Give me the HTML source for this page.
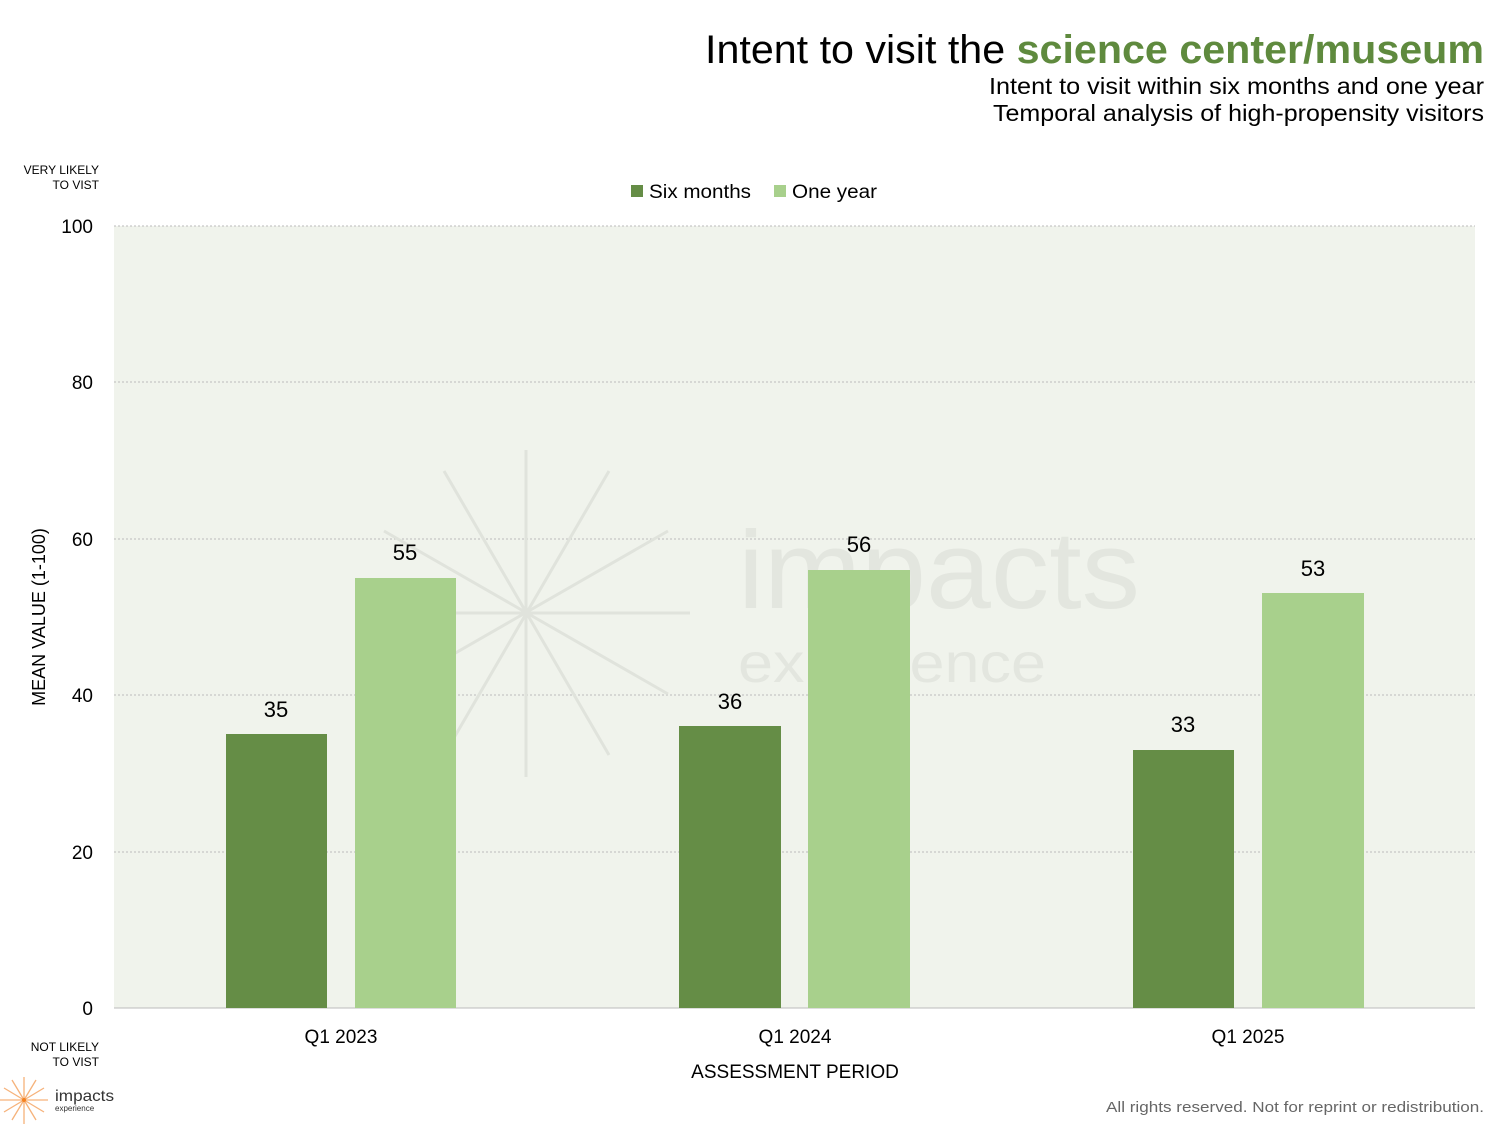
<!DOCTYPE html>
<html><head><meta charset="utf-8"><style>
body{margin:0;width:1500px;height:1125px;background:#fff;font-family:"Liberation Sans",sans-serif;overflow:hidden}
</style></head><body>
<svg width="1500" height="1125" xmlns="http://www.w3.org/2000/svg" font-family="Liberation Sans, sans-serif">
<text x="705" y="63" font-size="40" fill="#000" textLength="779" lengthAdjust="spacingAndGlyphs">Intent to visit the <tspan fill="#5f8a3e" font-weight="bold">science center/museum</tspan></text>
<text x="989" y="94" font-size="23" fill="#000" textLength="495" lengthAdjust="spacingAndGlyphs">Intent to visit within six months and one year</text>
<text x="993" y="121" font-size="23" fill="#000" textLength="491" lengthAdjust="spacingAndGlyphs">Temporal analysis of high-propensity visitors</text>
<text x="99" y="174" text-anchor="end" font-size="12">VERY LIKELY</text>
<text x="99" y="189" text-anchor="end" font-size="12">TO VIST</text>
<text x="99" y="1051" text-anchor="end" font-size="12">NOT LIKELY</text>
<text x="99" y="1066" text-anchor="end" font-size="12">TO VIST</text>
<rect x="631" y="185" width="12" height="12" fill="#658d46"/>
<text x="649" y="198" font-size="19" textLength="102" lengthAdjust="spacingAndGlyphs">Six months</text>
<rect x="774" y="185" width="12" height="12" fill="#a8d08c"/>
<text x="792" y="198" font-size="19" textLength="85" lengthAdjust="spacingAndGlyphs">One year</text>
<rect x="114" y="226" width="1361" height="782" fill="#f0f3ec"/>
<g stroke="#bbb" stroke-dasharray="2,2" stroke-width="1">
<line x1="114" x2="1475" y1="226" y2="226"/><line x1="114" x2="1475" y1="382" y2="382"/>
<line x1="114" x2="1475" y1="539" y2="539"/><line x1="114" x2="1475" y1="695" y2="695"/>
<line x1="114" x2="1475" y1="852" y2="852"/></g>
<g stroke="#e0e3dc" stroke-width="3">
<line x1="526" y1="450" x2="526" y2="777"/><line x1="360" y1="613" x2="690" y2="613"/>
<line x1="444" y1="471" x2="609" y2="755"/><line x1="609" y1="471" x2="444" y2="755"/>
<line x1="384" y1="531" x2="668" y2="694"/><line x1="668" y1="531" x2="384" y2="694"/>
</g>
<text x="738" y="608" font-size="110" fill="#e3e6df" textLength="402" lengthAdjust="spacingAndGlyphs">impacts</text>
<text x="738" y="682" font-size="56" fill="#e3e6df" textLength="308" lengthAdjust="spacingAndGlyphs">experience</text>
<line x1="114" x2="1475" y1="1008" y2="1008" stroke="#bbb"/>
<g font-size="19" text-anchor="end"><text x="93" y="233">100</text><text x="93" y="389">80</text><text x="93" y="546">60</text><text x="93" y="702">40</text><text x="93" y="859">20</text><text x="93" y="1015">0</text></g>
<text transform="translate(45,617) rotate(-90)" text-anchor="middle" font-size="18">MEAN VALUE (1-100)</text>
<g fill="#658d46"><rect x="226" y="734" width="101" height="274"/><rect x="679" y="726" width="102" height="282"/><rect x="1133" y="750" width="101" height="258"/></g>
<g fill="#a8d08c"><rect x="355" y="578" width="101" height="430"/><rect x="808" y="570" width="102" height="438"/><rect x="1262" y="593" width="102" height="415"/></g>
<g font-size="22" text-anchor="middle">
<text x="276" y="717">35</text><text x="405" y="560">55</text>
<text x="730" y="709">36</text><text x="859" y="552">56</text>
<text x="1183" y="732">33</text><text x="1313" y="576">53</text></g>
<g font-size="19" text-anchor="middle"><text x="341" y="1043">Q1 2023</text><text x="795" y="1043">Q1 2024</text><text x="1248" y="1043">Q1 2025</text></g>
<text x="795" y="1078" text-anchor="middle" font-size="19">ASSESSMENT PERIOD</text>
<g stroke="#f6b27a" stroke-width="1.3">
<line x1="24" y1="1077" x2="24" y2="1124"/><line x1="0" y1="1100" x2="48" y2="1100"/>
<line x1="12" y1="1080" x2="36" y2="1120"/><line x1="36" y1="1080" x2="12" y2="1120"/>
<line x1="4" y1="1088" x2="44" y2="1112"/><line x1="44" y1="1088" x2="4" y2="1112"/></g>
<circle cx="24" cy="1100" r="2" fill="#f58220"/>
<text x="55" y="1101" font-size="16" fill="#333" textLength="59" lengthAdjust="spacingAndGlyphs">impacts</text>
<text x="55" y="1111" font-size="8" fill="#333">experience</text>
<text x="1106" y="1112" font-size="15" fill="#666" textLength="378" lengthAdjust="spacingAndGlyphs">All rights reserved. Not for reprint or redistribution.</text>
</svg>
</body></html>
